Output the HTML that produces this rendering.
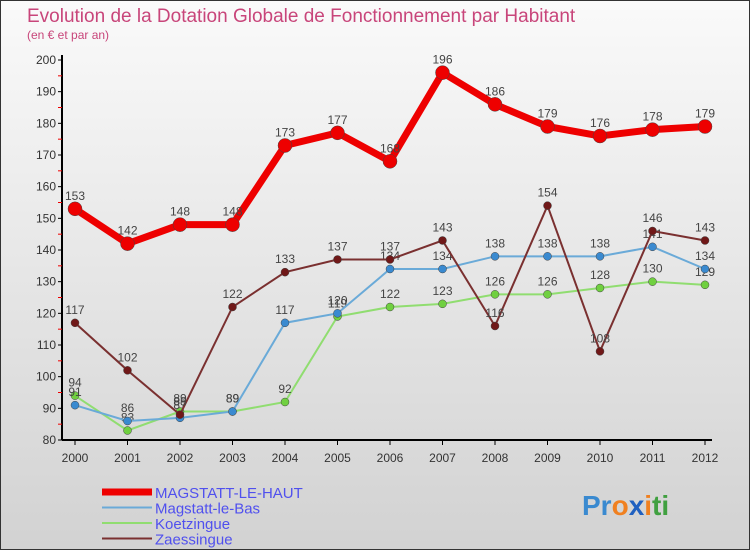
<!DOCTYPE html>
<html><head><meta charset="utf-8"><style>
body{margin:0;width:750px;height:550px;overflow:hidden;font-family:"Liberation Sans",sans-serif}
</style></head><body>
<svg width="750" height="550" xmlns="http://www.w3.org/2000/svg">
<defs><linearGradient id="bg" x1="0" y1="0" x2="0" y2="1"><stop offset="0" stop-color="#fafafa"/><stop offset="1" stop-color="#d2d2d2"/></linearGradient></defs>
<rect x="0.5" y="0.5" width="749" height="549" fill="url(#bg)" stroke="#333"/>
<text x="27" y="22" font-size="19" fill="#c8457a">Evolution de la Dotation Globale de Fonctionnement par Habitant</text>
<text x="27" y="39" font-size="12" fill="#c8457a">(en € et par an)</text>
<g id="axes"></g><g id="series"></g><g id="legend"></g>
<text x="582" y="515" font-size="28" font-weight="bold"><tspan fill="#3a8ad0">Pr</tspan><tspan fill="#f08020">o</tspan><tspan fill="#2060c0">x</tspan><tspan fill="#f08020">i</tspan><tspan fill="#40a040">ti</tspan></text>
</svg>
<script>
const years=[2000,2001,2002,2003,2004,2005,2006,2007,2008,2009,2010,2011,2012];
const yTicks=[80,90,100,110,120,130,140,150,160,170,180,190,200];
const magHaut=[153,142,148,148,173,177,168,196,186,179,176,178,179];
const magBas=[91,86,87,89,117,120,134,134,138,138,138,141,134];
const koetz=[94,83,89,89,92,119,122,123,126,126,128,130,129];
const zaess=[117,102,88,122,133,137,137,143,116,154,108,146,143];
const NS='http://www.w3.org/2000/svg';
const X=i=>75+i*52.5, Y=v=>440-(v-80)*3.1667;
function mk(t,a,p){const e=document.createElementNS(NS,t);for(const k in a)e.setAttribute(k,a[k]);p.appendChild(e);return e;}
const ax=document.getElementById('axes');
let l=mk('line',{x1:62,y1:55,x2:62,y2:440,stroke:'#000','stroke-width':2},ax);


l=mk('line',{x1:62,y1:440,x2:712,y2:440,stroke:'#000','stroke-width':2},ax);


yTicks.forEach((v,k)=>{mk('line',{x1:58,y1:Y(v),x2:62,y2:Y(v),stroke:'#000'},ax);
 if(k<yTicks.length-1) mk('line',{x1:58,y1:Y(v+5),x2:62,y2:Y(v+5),stroke:'#e00'},ax);
 const t=mk('text',{x:56,y:Y(v)+4,'font-size':12,'text-anchor':'end',fill:'#333'},ax);t.textContent=v;
 
 });
years.forEach((y,i)=>{mk('line',{x1:X(i),y1:440,x2:X(i),y2:445,stroke:'#000'},ax);
 const t=mk('text',{x:X(i),y:462,'font-size':12,'text-anchor':'middle',fill:'#333'},ax);t.textContent=y;
 
 });
const sg=document.getElementById('series');
const defs=[[koetz,'#90dd70','#70d040',2,4,'koetzingue'],[magBas,'#6aaad8','#3a8ad0',2,4,'magstatt-le-bas'],[zaess,'#7a3030','#701818',2,4,'zaessingue'],[magHaut,'#ee0000','#ee0000',7,7,'magstatt-le-haut']];
defs.forEach(([d,c,dc,w,r,n])=>{
 const g=mk('g',{},sg);
 
 
 mk('polyline',{points:d.map((v,i)=>X(i)+','+Y(v)).join(' '),fill:'none',stroke:c,'stroke-width':w},g);
 d.forEach((v,i)=>{const p=mk('circle',{cx:X(i),cy:Y(v),r:r,fill:dc,stroke:'#444','stroke-width':0.5},g);
  
  
  const t=mk('text',{x:X(i),y:Y(v)-9,'font-size':12,'text-anchor':'middle',fill:'#444'},g);t.textContent=v;
  
  });
});
const lg=document.getElementById('legend');
[['MAGSTATT-LE-HAUT','#ee0000',7],['Magstatt-le-Bas','#6aaad8',2],['Koetzingue','#90dd70',2],['Zaessingue','#7a3030',2]].forEach(([n,c,w],i)=>{
 const y=492+i*15.5;
 const g=mk('g',{},lg);
 
 
 mk('line',{x1:102,y1:y,x2:152,y2:y,stroke:c,'stroke-width':w},g);
 const t=mk('text',{x:155,y:y+6,'font-size':15,fill:'#5050ee'},g);t.textContent=n;});
</script>
</body></html>
